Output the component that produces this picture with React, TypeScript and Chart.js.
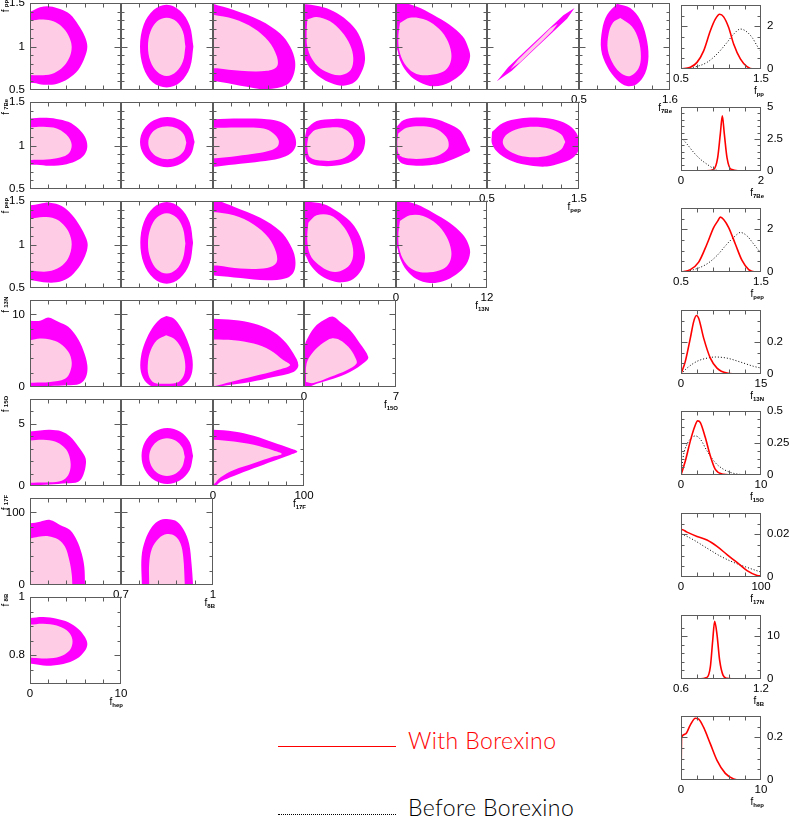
import React, { useEffect, useRef } from 'react';
import { Chart, registerables } from 'chart.js';

Chart.register(...registerables);

// ---------------- axes of the triangle of 2D panels ----------------
const rowNames = ['pp', '7Be', 'pep', '13N', '15O', '17F', '8B'];
const colNames = ['hep', '8B', '17F', '15O', '13N', 'pep', '7Be'];
const colMin = [0, 0.7, 0, 0, 0, 0.5, 0.5];
const colMax = [10, 1, 100, 7, 12, 1.5, 1.6];
const colStep = [2, 0.06, 20, 1.4, 2.4, 0.2, 0.22];
const rowMin = [0.5, 0.5, 0.5, 0, 0, 0, 0.7];
const rowMax = [1.5, 1.5, 1.5, 12, 7, 120, 1];
const rowStep = [0.1, 0.1, 0.1, 2, 1, 20, 0.05];
const rowTickLabels = [[0.5, 1, 1.5], [0.5, 1, 1.5], [0.5, 1, 1.5], [0, 10], [0, 5], [0, 100], [0.8, 1]];

// ---------------- contours (x, y pairs), 95% (outer) and 68% (inner) ----------------
// row f_pp
const pp_hep_95 = [-1, 1.40, 0, 1.40, 1.1, 1.45, 2.2, 1.46, 3.3, 1.43, 4.4, 1.37, 5.3, 1.25, 6.0, 1.12, 6.3, 1.0, 6.0, 0.87, 5.3, 0.73, 4.2, 0.63, 2.9, 0.57, 1.5, 0.56, 0.4, 0.58, -1, 0.58];
const pp_hep_68 = [-1, 1.30, 0, 1.30, 1.47, 1.31, 2.56, 1.29, 3.48, 1.23, 4.21, 1.13, 4.58, 1.0, 4.29, 0.865, 3.48, 0.75, 2.38, 0.685, 1.1, 0.67, 0, 0.673, -1, 0.673];
const pp_8B_95 = [0.936, 1.0, 0.924, 1.24, 0.893, 1.41, 0.849, 1.48, 0.806, 1.42, 0.774, 1.25, 0.762, 1.0, 0.773, 0.76, 0.803, 0.59, 0.849, 0.53, 0.893, 0.59, 0.925, 0.76, 0.936, 1.0];
const pp_8B_68 = [0.910, 1.0, 0.902, 1.17, 0.880, 1.29, 0.849, 1.33, 0.818, 1.29, 0.796, 1.17, 0.788, 1.0, 0.796, 0.83, 0.818, 0.71, 0.849, 0.66, 0.880, 0.71, 0.902, 0.83, 0.910, 1.0];
const pp_17F_95 = [-5, 1.52, 0, 1.49, 22.9, 1.42, 52, 1.30, 73.8, 1.15, 84.7, 1.0, 90.2, 0.83, 88.4, 0.67, 81.1, 0.56, 59.3, 0.51, 30.2, 0.55, 2.9, 0.60, -5, 0.60];
const pp_17F_68 = [-5, 1.365, 0, 1.365, 22.9, 1.315, 44.7, 1.21, 61.1, 1.06, 70.2, 0.885, 70.2, 0.77, 59.3, 0.72, 30.2, 0.72, 4.7, 0.75, -5, 0.75];
const pp_15O_95 = [-0.3, 1.485, 0.2, 1.485, 1.47, 1.45, 2.49, 1.385, 3.5, 1.27, 4.13, 1.15, 4.51, 1.0, 4.64, 0.846, 4.39, 0.71, 3.88, 0.596, 2.99, 0.55, 2.1, 0.577, 1.22, 0.646, 0.46, 0.75, 0.05, 0.85, -0.3, 0.85];
const pp_15O_68 = [0.25, 1.31, 0.96, 1.34, 1.98, 1.29, 2.87, 1.17, 3.5, 1.02, 3.75, 0.865, 3.55, 0.73, 2.87, 0.673, 2.1, 0.685, 1.22, 0.75, 0.58, 0.865, 0.25, 1.0, 0.2, 1.15, 0.25, 1.31];
const pp_13N_95 = [-0.3, 1.52, 0.17, 1.52, 2.7, 1.46, 4.89, 1.365, 7.07, 1.25, 8.81, 1.115, 9.47, 1.0, 9.77, 0.885, 9.25, 0.75, 7.94, 0.635, 6.2, 0.558, 4.45, 0.546, 2.7, 0.608, 1.4, 0.71, 0.52, 0.846, 0.09, 0.98, -0.3, 0.98];
const pp_13N_68 = [0.52, 1.27, 1.83, 1.33, 3.58, 1.315, 5.32, 1.23, 6.63, 1.096, 7.29, 0.923, 7.07, 0.79, 6.2, 0.71, 4.45, 0.673, 2.7, 0.685, 1.4, 0.77, 0.52, 0.923, 0.3, 1.096, 0.52, 1.27];
const pp_pep_95 = [0.607, 0.600, 0.73, 0.762, 0.93, 0.962, 1.13, 1.161, 1.33, 1.360, 1.452, 1.442, 1.37, 1.320, 1.17, 1.121, 0.97, 0.922, 0.77, 0.722, 0.607, 0.600];
const pp_pep_68 = [0.754, 0.738, 0.837, 0.849, 0.957, 0.971, 1.077, 1.093, 1.187, 1.206, 1.268, 1.262, 1.213, 1.180, 1.103, 1.067, 0.983, 0.945, 0.863, 0.823, 0.754, 0.738];
const pp_7Be_95 = [0.96, 1.492, 1.12, 1.442, 1.24, 1.308, 1.312, 1.115, 1.34, 0.885, 1.3, 0.692, 1.2, 0.569, 1.08, 0.546, 0.96, 0.615, 0.84, 0.769, 0.768, 0.962, 0.78, 1.192, 0.84, 1.365, 0.96, 1.492];
const pp_7Be_68 = [1.0, 1.327, 1.14, 1.23, 1.22, 1.077, 1.248, 0.885, 1.22, 0.75, 1.12, 0.662, 1.02, 0.685, 0.92, 0.788, 0.848, 0.962, 0.86, 1.154, 0.912, 1.277, 1.0, 1.327];
// row f_7Be
const be_hep_95 = [-1, 1.31, 0, 1.31, 1.47, 1.318, 2.93, 1.306, 4.21, 1.272, 5.31, 1.196, 6.04, 1.10, 6.3, 0.994, 6.04, 0.903, 5.31, 0.835, 4.03, 0.785, 2.2, 0.766, 0.73, 0.778, -1, 0.778];
const be_hep_68 = [-1, 1.207, 0, 1.207, 1.47, 1.215, 2.93, 1.196, 3.85, 1.139, 4.4, 1.07, 4.58, 0.994, 4.32, 0.918, 3.66, 0.873, 2.2, 0.842, 0.73, 0.835, -1, 0.835];
const be_8B_95 = [0.940, 1.04, 0.928, 1.185, 0.895, 1.29, 0.851, 1.329, 0.807, 1.29, 0.774, 1.185, 0.762, 1.04, 0.774, 0.896, 0.807, 0.79, 0.851, 0.751, 0.895, 0.79, 0.928, 0.896, 0.940, 1.04];
const be_8B_68 = [0.913, 1.032, 0.905, 1.127, 0.882, 1.197, 0.851, 1.222, 0.820, 1.197, 0.797, 1.127, 0.789, 1.032, 0.797, 0.937, 0.820, 0.867, 0.851, 0.842, 0.882, 0.867, 0.905, 0.937, 0.913, 1.032];
const be_17F_95 = [-5, 1.31, 0, 1.302, 30.2, 1.31, 59.3, 1.302, 73.8, 1.272, 84.7, 1.196, 90.2, 1.10, 90.9, 0.994, 85.5, 0.91, 73.8, 0.854, 52, 0.816, 30.2, 0.789, 4.7, 0.759, -5, 0.755];
const be_17F_68 = [-5, 1.203, 0, 1.203, 30.2, 1.207, 55.6, 1.196, 66.5, 1.139, 72, 1.063, 71.3, 0.994, 64.7, 0.949, 48.4, 0.911, 26.5, 0.88, 2.9, 0.854, -5, 0.852];
const be_15O_95 = [0.2, 1.196, 0.96, 1.283, 2.23, 1.306, 3.25, 1.298, 4.13, 1.234, 4.59, 1.118, 4.64, 1.023, 4.39, 0.911, 3.63, 0.816, 2.49, 0.77, 1.22, 0.766, 0.33, 0.808, 0.05, 0.911, 0.05, 1.063, 0.2, 1.196];
const be_15O_68 = [0.33, 1.10, 0.84, 1.177, 1.98, 1.207, 2.99, 1.196, 3.63, 1.118, 3.8, 1.006, 3.5, 0.903, 2.61, 0.835, 1.34, 0.827, 0.46, 0.865, 0.25, 0.987, 0.33, 1.10];
const be_13N_95 = [0.09, 1.215, 0.96, 1.291, 2.7, 1.321, 4.89, 1.31, 7.07, 1.245, 8.38, 1.177, 9.03, 1.093, 9.47, 1.006, 9.77, 0.941, 9.03, 0.903, 7.51, 0.842, 5.76, 0.789, 4.01, 0.77, 2.27, 0.77, 0.74, 0.797, 0.09, 0.873, 0, 1.063, 0.09, 1.215];
const be_13N_68 = [0.3, 1.139, 1.4, 1.203, 3.14, 1.222, 4.89, 1.203, 6.2, 1.139, 6.85, 1.063, 6.85, 0.968, 5.76, 0.892, 4.01, 0.854, 1.83, 0.85, 0.44, 0.892, 0.17, 1.025, 0.3, 1.139];
const be_pep_95 = [0.555, 1.158, 0.673, 1.26, 0.857, 1.31, 1.04, 1.321, 1.224, 1.302, 1.371, 1.245, 1.463, 1.158, 1.504, 1.044, 1.493, 0.941, 1.426, 0.854, 1.298, 0.797, 1.151, 0.759, 0.967, 0.77, 0.783, 0.816, 0.636, 0.903, 0.555, 1.017, 0.555, 1.158];
const be_pep_68 = [1.351, 1.04, 1.305, 1.128, 1.181, 1.192, 1.011, 1.215, 0.841, 1.192, 0.717, 1.128, 0.671, 1.04, 0.717, 0.953, 0.841, 0.889, 1.011, 0.865, 1.181, 0.889, 1.305, 0.953, 1.351, 1.04];
// row f_pep
const pep_hep_95 = [-1, 1.45, 0, 1.45, 1.1, 1.469, 2.2, 1.481, 3.48, 1.442, 4.58, 1.346, 5.49, 1.212, 6.15, 1.077, 6.34, 0.988, 6.04, 0.865, 5.31, 0.731, 4.21, 0.615, 2.93, 0.565, 1.47, 0.565, 0.18, 0.588, -1, 0.588];
const pep_hep_68 = [-1, 1.296, 0, 1.296, 1.47, 1.315, 2.75, 1.296, 3.66, 1.231, 4.29, 1.135, 4.58, 1.0, 4.21, 0.846, 3.3, 0.742, 2.01, 0.692, 0.73, 0.692, 0, 0.7, -1, 0.7];
const pep_8B_95 = [0.935, 1.019, 0.924, 1.254, 0.892, 1.425, 0.849, 1.488, 0.806, 1.425, 0.774, 1.254, 0.763, 1.019, 0.774, 0.785, 0.806, 0.613, 0.849, 0.55, 0.892, 0.613, 0.924, 0.785, 0.935, 1.019];
const pep_8B_68 = [0.910, 1.012, 0.902, 1.185, 0.880, 1.312, 0.849, 1.358, 0.818, 1.312, 0.796, 1.185, 0.788, 1.012, 0.796, 0.839, 0.818, 0.712, 0.849, 0.666, 0.880, 0.712, 0.902, 0.839, 0.910, 1.012];
const pep_17F_95 = [-5, 1.52, 4.7, 1.505, 22.9, 1.435, 52, 1.308, 73.8, 1.154, 84.7, 1.0, 90.2, 0.846, 89.1, 0.692, 81.1, 0.615, 59.3, 0.588, 30.2, 0.615, 2.9, 0.642, -5, 0.642];
const pep_17F_68 = [-5, 1.373, 0, 1.373, 22.9, 1.335, 44.7, 1.231, 61.1, 1.077, 69.5, 0.904, 69.5, 0.788, 59.3, 0.731, 30.2, 0.723, 4.7, 0.758, -5, 0.758];
const pep_15O_95 = [-0.3, 1.492, 0.2, 1.492, 1.47, 1.465, 2.49, 1.385, 3.5, 1.269, 4.13, 1.135, 4.51, 0.981, 4.64, 0.846, 4.39, 0.712, 3.75, 0.604, 2.87, 0.565, 1.98, 0.588, 1.09, 0.665, 0.46, 0.769, 0.05, 0.885, -0.3, 0.885];
const pep_15O_68 = [0.33, 1.25, 0.96, 1.335, 1.98, 1.335, 2.87, 1.231, 3.5, 1.077, 3.75, 0.904, 3.5, 0.769, 2.74, 0.692, 1.98, 0.692, 1.09, 0.769, 0.46, 0.885, 0.25, 1.058, 0.33, 1.25];
const pep_13N_95 = [-0.3, 1.52, 0.17, 1.52, 2.7, 1.462, 4.89, 1.365, 7.07, 1.25, 8.81, 1.115, 9.47, 1.019, 9.77, 0.904, 9.25, 0.769, 7.94, 0.654, 6.2, 0.577, 4.45, 0.558, 2.7, 0.604, 1.4, 0.704, 0.52, 0.846, 0.09, 0.981, -0.3, 0.98];
const pep_13N_68 = [0.52, 1.269, 1.83, 1.335, 3.58, 1.327, 5.32, 1.238, 6.63, 1.096, 7.29, 0.923, 7.07, 0.796, 6.2, 0.719, 4.45, 0.681, 2.7, 0.692, 1.4, 0.769, 0.52, 0.923, 0.3, 1.096, 0.52, 1.269];
// row f_13N
const n13_hep_95 = [-1, 9.14, 0, 9.14, 1.1, 9.14, 2.01, 9.6, 3.11, 9.0, 4.21, 8.31, 5.13, 6.92, 5.86, 5.08, 6.3, 3.0, 6.15, 1.38, 5.49, 0.46, 4.03, 0.23, 2.2, 0.14, 0.18, 0.09, -1, 0.09];
const n13_hep_68 = [-1, 6.46, 0, 6.46, 1.1, 6.69, 2.2, 6.55, 3.3, 6.0, 4.21, 4.85, 4.58, 3.46, 4.4, 2.08, 3.85, 1.15, 2.2, 0.69, 0.37, 0.6, -1, 0.6];
const n13_8B_95 = [0.848, 9.78, 0.872, 9.46, 0.894, 8.31, 0.916, 6.46, 0.932, 4.15, 0.932, 2.08, 0.916, 0.69, 0.883, -0.1, 0.817, -0.1, 0.784, 0.55, 0.765, 2.08, 0.765, 4.15, 0.779, 6.23, 0.801, 8.08, 0.826, 9.32, 0.848, 9.78];
const n13_8B_68 = [0.847, 7.15, 0.872, 6.69, 0.894, 5.54, 0.908, 3.69, 0.907, 1.85, 0.888, 0.69, 0.85, 0.46, 0.808, 0.6, 0.79, 1.62, 0.788, 3.46, 0.797, 5.08, 0.817, 6.46, 0.847, 7.15];
const n13_17F_95 = [-5, 9.42, 0, 9.42, 22.9, 9.23, 44.7, 8.77, 62.9, 7.85, 77.5, 6.46, 88.4, 4.62, 93.8, 3.0, 88.4, 2.08, 66.5, 1.38, 41.1, 0.69, 15.6, 0.23, 1.1, -0.1, -5, -0.1];
const n13_17F_68 = [-5, 6.55, 0, 6.55, 22.9, 6.46, 44.7, 6.0, 62.9, 5.08, 77.5, 3.69, 84.7, 3.0, 70.2, 2.31, 44.7, 1.48, 19.3, 0.69, 1.1, 0.09, -5, 0.0];
const n13_15O_95 = [0.05, -0.1, 0.05, 5.54, 0.33, 6.92, 0.96, 8.54, 1.72, 9.46, 2.23, 9.69, 2.74, 9.0, 3.5, 7.85, 4.26, 6.0, 4.89, 4.15, 4.64, 3.46, 3.5, 2.08, 2.23, 1.15, 0.96, 0.46, 0.2, -0.1, 0.05, -0.1];
const n13_15O_68 = [0.15, 0.69, 0.2, 3.23, 0.71, 4.85, 1.47, 6.09, 2.1, 6.69, 2.74, 6.46, 3.37, 5.54, 3.88, 4.15, 4.0, 3.23, 3.25, 2.31, 1.98, 1.38, 0.71, 0.55, 0.15, 0.69];
// row f_15O
const o15_hep_95 = [-1, 4.39, 0, 4.39, 1.1, 4.47, 2.2, 4.52, 3.48, 4.39, 4.4, 3.98, 5.31, 3.18, 6.04, 2.37, 6.15, 1.83, 5.86, 0.89, 5.31, 0.35, 4.03, 0.22, 2.2, 0.13, 0.18, 0.08, -1, 0.08];
const o15_hep_68 = [-1, 3.66, 0, 3.66, 1.47, 3.72, 2.75, 3.58, 3.66, 3.18, 4.21, 2.64, 4.47, 1.7, 4.21, 0.89, 3.48, 0.43, 2.2, 0.3, 0.37, 0.27, -1, 0.27];
const o15_8B_95 = [0.935, 2.41, 0.924, 3.535, 0.893, 4.36, 0.851, 4.66, 0.809, 4.36, 0.778, 3.535, 0.767, 2.41, 0.778, 1.285, 0.809, 0.46, 0.851, 0.16, 0.893, 0.46, 0.924, 1.285, 0.935, 2.41];
const o15_8B_68 = [0.908, 2.33, 0.900, 3.09, 0.879, 3.65, 0.85, 3.85, 0.821, 3.65, 0.8, 3.09, 0.792, 2.33, 0.8, 1.57, 0.821, 1.01, 0.85, 0.81, 0.879, 1.01, 0.9, 1.57, 0.908, 2.33];
const o15_17F_95 = [-5, 4.52, 0, 4.52, 22.9, 4.39, 44.7, 4.04, 66.5, 3.5, 84.7, 3.04, 92.7, 2.77, 84.7, 2.5, 66.5, 2.02, 44.7, 1.43, 22.9, 0.81, 8.4, 0.35, 1.1, -0.1, -5, -0.1];
const o15_17F_68 = [-5, 3.72, 0, 3.72, 22.9, 3.58, 44.7, 3.31, 66.5, 2.85, 75.6, 2.58, 66.5, 2.37, 44.7, 1.83, 22.9, 1.29, 8.4, 0.7, 1.1, 0.16, -5, 0.0];
// row f_17F
const f17_hep_95 = [-1, 85.1, 0, 85.1, 1.1, 87.4, 2.2, 89.8, 3.3, 82.8, 4.4, 75.8, 5.13, 61.9, 5.68, 43.3, 5.97, 24.7, 6.04, 0, 6.04, -5, -1, -5];
const f17_hep_68 = [-1, 64.2, 0, 64.2, 0.92, 66.5, 2.01, 67.4, 3.11, 62.8, 3.85, 52.6, 4.32, 34.0, 4.58, 15.3, 4.65, 0, 4.65, -5, -1, -5];
const f17_8B_95 = [0.768, -5, 0.768, 0, 0.767, 38.6, 0.779, 61.9, 0.801, 80.5, 0.828, 89.8, 0.856, 90.7, 0.883, 87.4, 0.905, 75.8, 0.922, 57.2, 0.93, 29.3, 0.935, 0, 0.935, -5];
const f17_8B_68 = [0.792, -5, 0.792, 0, 0.792, 29.3, 0.801, 50.2, 0.823, 64.2, 0.85, 70.2, 0.877, 67.4, 0.894, 57.2, 0.903, 38.6, 0.908, 0, 0.908, -5];
// row f_8B
const b8_hep_95 = [-1, 0.928, 0, 0.928, 1.47, 0.931, 2.93, 0.925, 4.21, 0.913, 5.31, 0.89, 6.04, 0.862, 6.3, 0.838, 6.04, 0.815, 5.13, 0.787, 3.66, 0.769, 1.83, 0.763, 0.37, 0.769, -1, 0.77];
const b8_hep_68 = [-1, 0.905, 0, 0.905, 1.47, 0.908, 2.93, 0.902, 4.03, 0.885, 4.58, 0.862, 4.65, 0.838, 4.32, 0.815, 3.3, 0.795, 1.83, 0.788, 0.37, 0.79, -1, 0.79];

const contour95 = [
  [pp_hep_95, pp_8B_95, pp_17F_95, pp_15O_95, pp_13N_95, pp_pep_95, pp_7Be_95],
  [be_hep_95, be_8B_95, be_17F_95, be_15O_95, be_13N_95, be_pep_95],
  [pep_hep_95, pep_8B_95, pep_17F_95, pep_15O_95, pep_13N_95],
  [n13_hep_95, n13_8B_95, n13_17F_95, n13_15O_95],
  [o15_hep_95, o15_8B_95, o15_17F_95],
  [f17_hep_95, f17_8B_95],
  [b8_hep_95],
];
const contour68 = [
  [pp_hep_68, pp_8B_68, pp_17F_68, pp_15O_68, pp_13N_68, pp_pep_68, pp_7Be_68],
  [be_hep_68, be_8B_68, be_17F_68, be_15O_68, be_13N_68, be_pep_68],
  [pep_hep_68, pep_8B_68, pep_17F_68, pep_15O_68, pep_13N_68],
  [n13_hep_68, n13_8B_68, n13_17F_68, n13_15O_68],
  [o15_hep_68, o15_8B_68, o15_17F_68],
  [f17_hep_68, f17_8B_68],
  [b8_hep_68],
];

// ---------------- 1D distributions (right column) ----------------
const distNames = ['pp', '7Be', 'pep', '13N', '15O', '17N', '8B', 'hep'];
const distXMin = [0.5, 0, 0.5, 0, 0, 0, 0.6, 0];
const distXMax = [1.5, 2, 1.5, 15, 10, 100, 1.2, 10];
const distXStep = [0.2, 0.4, 0.2, 3, 2, 20, 0.12, 2];
const distYMax = [3, 5, 3, 0.4, 0.5, 0.03, 15, 0.3];
const distYStep = [0.5, 0.5, 0.5, 0.4 / 6, 0.0625, 0.005, 2, 0.05];
const distYLabels = [[0, 2], [0, 2.5, 5], [0, 2], [0, 0.2], [0, 0.25, 0.5], [0, 0.02], [0, 10], [0, 0.2]];

const ppWithX = [0.5, 0.617, 0.7, 0.783, 0.867, 0.929, 0.983, 1.033, 1.096, 1.158, 1.242, 1.325, 1.408, 1.5];
const ppWithY = [0, 0.08, 0.31, 0.85, 1.79, 2.33, 2.56, 2.44, 1.94, 1.17, 0.47, 0.11, 0, 0];
const ppBeforeX = [0.5, 0.658, 0.825, 0.95, 1.075, 1.158, 1.242, 1.304, 1.388, 1.45, 1.5];
const ppBeforeY = [0, 0.08, 0.31, 0.7, 1.24, 1.63, 1.87, 1.79, 1.48, 1.09, 0.78];
const be7WithX = [0.6, 0.817, 0.917, 0.983, 1.033, 1.083, 1.15, 1.25, 1.5];
const be7WithY = [0, 0.13, 1.05, 2.89, 4.3, 2.89, 1.05, 0.13, 0];
const be7BeforeX = [0, 0.15, 0.317, 0.483, 0.65, 0.775, 0.9, 1.025];
const be7BeforeY = [2.63, 2.1, 1.45, 0.92, 0.53, 0.26, 0.05, 0];
const pepWithX = [0.5, 0.617, 0.721, 0.825, 0.908, 0.958, 0.992, 1.033, 1.096, 1.179, 1.263, 1.346, 1.429, 1.5];
const pepWithY = [0, 0.11, 0.46, 1.31, 2.08, 2.38, 2.57, 2.46, 2.08, 1.31, 0.54, 0.11, 0, 0];
const pepBeforeX = [0.5, 0.658, 0.825, 0.95, 1.075, 1.179, 1.242, 1.325, 1.408, 1.5];
const pepBeforeY = [0, 0.11, 0.38, 0.77, 1.31, 1.69, 1.85, 1.69, 1.31, 0.88];
const n13WithX = [0, 0.81, 1.75, 2.38, 2.88, 3.31, 4.25, 5.5, 6.75, 8.63, 11.1, 15];
const n13WithY = [0, 0.079, 0.224, 0.327, 0.365, 0.348, 0.224, 0.099, 0.037, 0.006, 0, 0];
const n13BeforeX = [0, 1.13, 3.0, 4.88, 6.44, 8.63, 11.1, 13.6, 15];
const n13BeforeY = [0, 0.037, 0.079, 0.099, 0.106, 0.099, 0.075, 0.048, 0.037];
const o15WithX = [0, 0.54, 1.17, 1.67, 2.08, 2.42, 3.04, 3.67, 4.29, 5.33, 6.17];
const o15WithY = [0, 0.109, 0.266, 0.37, 0.422, 0.409, 0.292, 0.148, 0.044, 0.005, 0];
const o15BeforeX = [0, 0.25, 0.75, 1.38, 1.79, 2.42, 3.25, 4.29, 5.33, 6.58, 8.25];
const o15BeforeY = [0, 0.135, 0.24, 0.292, 0.305, 0.279, 0.188, 0.096, 0.044, 0.013, 0];
const n17WithX = [0, 0.3, 1, 7.5, 20, 32.5, 45, 57.5, 70, 82.5, 95, 100];
const n17WithY = [0, 0.022, 0.0222, 0.021, 0.019, 0.0173, 0.0143, 0.0105, 0.0068, 0.003, 0.00075, 0.00045];
const n17BeforeX = [0.5, 16, 32.5, 49, 66, 82.5, 100];
const n17BeforeY = [0.0203, 0.0173, 0.0135, 0.0098, 0.0068, 0.0045, 0.0023];
const b8WithX = [0.72, 0.795, 0.82, 0.8375, 0.8525, 0.87, 0.89, 0.915, 0.945, 0.995];
const b8WithY = [0, 0.38, 2.82, 8.9, 13.5, 10.4, 4.34, 0.91, 0.15, 0];
const hepWithX = [0, 0.08, 0.54, 1.17, 1.79, 2.21, 2.83, 3.67, 4.5, 5.54, 6.58, 7.42, 9.5];
const hepWithY = [0, 0.2, 0.215, 0.258, 0.289, 0.285, 0.246, 0.169, 0.092, 0.031, 0.005, 0, 0];

const distWithX = [ppWithX, be7WithX, pepWithX, n13WithX, o15WithX, n17WithX, b8WithX, hepWithX];
const distWithY = [ppWithY, be7WithY, pepWithY, n13WithY, o15WithY, n17WithY, b8WithY, hepWithY];
const distBeforeX = [ppBeforeX, be7BeforeX, pepBeforeX, n13BeforeX, o15BeforeX, n17BeforeX, null, null];
const distBeforeY = [ppBeforeY, be7BeforeY, pepBeforeY, n13BeforeY, o15BeforeY, n17BeforeY, null, null];

const seriesLabels = ['With Borexino', 'Before Borexino'];

// ---------------- styling / layout ----------------
const PINK = '#FFCCE6';
const MAGENTA = '#FF00FF';
const FRAME = '#5c5c5c';
const TICK_FONT = { family: "'Liberation Sans', Arial, sans-serif", size: 11.5 };
const PANEL_H = 87;
const colLeft = (c: number) => 30 + Math.floor(c * 91.5);
const colRight = (c: number) => 30 + Math.floor((c + 1) * 91.5);
const rowTop = (r: number) => 3 + 99 * r;
const DIST_L = 681;
const DIST_W = 80;
const DIST_H = 65;
const distTop = (k: number) => Math.round(4 + 101.6 * k);
const M2 = { l: 30, r: 20, t: 12, b: 20 };
const M1 = { l: 20, r: 30, t: 12, b: 20 };

const toPts = (a: number[]) => {
  const out: any[] = [];
  for (let i = 0; i < a.length; i += 2) out.push({ x: a[i], y: a[i + 1] });
  return out;
};
const zipPts = (xs: number[], ys: number[]) => xs.map((x, i) => ({ x, y: ys[i] }));
const fmt = (v: number) => String(parseFloat(v.toFixed(4)));
const near = (list: number[], v: number) => list.some((m) => Math.abs(m - v) < 1e-7);
const labelCb = (list: number[]) => (v: any) => (near(list, Number(v)) ? fmt(Number(v)) : '');

function framePlugin(majorX: number[], majorY: number[]) {
  return {
    id: 'frameTicks',
    afterDatasetsDraw(chart: any) {
      const { ctx, chartArea: a } = chart;
      const xs = chart.scales.x;
      const ys = chart.scales.y;
      const L = Math.round(a.left) + 0.5;
      const R = Math.round(a.right) - 0.5;
      const T = Math.round(a.top) + 0.5;
      const B = Math.round(a.bottom) - 0.5;
      ctx.save();
      ctx.strokeStyle = FRAME;
      ctx.lineWidth = 1;
      ctx.beginPath();
      for (const t of xs.ticks) {
        const p = Math.round(xs.getPixelForValue(t.value)) + 0.5;
        if (p < L + 2 || p > R - 2) continue;
        const len = near(majorX, t.value) ? 6 : 4;
        ctx.moveTo(p, B); ctx.lineTo(p, B - len);
        ctx.moveTo(p, T); ctx.lineTo(p, T + len);
      }
      for (const t of ys.ticks) {
        const p = Math.round(ys.getPixelForValue(t.value)) + 0.5;
        if (p < T + 2 || p > B - 2) continue;
        const len = near(majorY, t.value) ? 6 : 3;
        ctx.moveTo(L, p); ctx.lineTo(L + len, p);
        ctx.moveTo(R, p); ctx.lineTo(R - len, p);
      }
      ctx.stroke();
      ctx.strokeRect(L, T, R - L, B - T);
      ctx.restore();
    },
  };
}

const baseOptions = {
  animation: false,
  responsive: false,
  devicePixelRatio: 1,
  events: [],
  plugins: { legend: { display: false }, tooltip: { enabled: false } },
};

function contourConfig(r: number, c: number) {
  const isLast = c === 6 - r;
  const tension = r === 0 && c === 5 ? 0 : 0.35;
  return {
    type: 'line',
    data: {
      datasets: [
        { data: toPts(contour68[r][c]), fill: 'shape', backgroundColor: PINK, borderColor: PINK, borderWidth: 0, pointRadius: 0, tension },
        { data: toPts(contour95[r][c]), fill: 'shape', backgroundColor: MAGENTA, borderColor: MAGENTA, borderWidth: 0, pointRadius: 0, tension },
      ],
    },
    options: {
      ...baseOptions,
      layout: { autoPadding: false, padding: { left: 0, right: M2.r, top: M2.t, bottom: 0 } },
      scales: {
        x: {
          type: 'linear', min: colMin[c], max: colMax[c],
          grid: { display: false, drawTicks: false }, border: { display: false },
          ticks: { display: isLast, stepSize: colStep[c], autoSkip: false, maxRotation: 0, padding: 3, font: TICK_FONT, color: '#000', callback: labelCb([colMin[c], colMax[c]]) },
          afterFit: (s: any) => { s.height = M2.b; },
        },
        y: {
          type: 'linear', min: rowMin[r], max: rowMax[r],
          grid: { display: false, drawTicks: false }, border: { display: false },
          ticks: { display: c === 0, stepSize: rowStep[r], autoSkip: false, padding: 5, font: TICK_FONT, color: '#000', callback: labelCb(rowTickLabels[r]) },
          afterFit: (s: any) => { s.width = M2.l; },
        },
      },
    },
    plugins: [framePlugin([], rowTickLabels[r])],
  };
}

function distConfig(k: number) {
  const datasets: any[] = [
    { data: zipPts(distWithX[k], distWithY[k]), borderColor: '#ff0000', borderWidth: 1.6, pointRadius: 0, fill: false, cubicInterpolationMode: 'monotone' },
  ];
  const bx = distBeforeX[k];
  const by = distBeforeY[k];
  if (bx && by) {
    datasets.push({ data: zipPts(bx, by), borderColor: '#000000', borderWidth: 1, borderDash: [1, 2], pointRadius: 0, fill: false, cubicInterpolationMode: 'monotone' });
  }
  return {
    type: 'line',
    data: { datasets },
    options: {
      ...baseOptions,
      layout: { autoPadding: false, padding: { left: M1.l, right: 0, top: M1.t, bottom: 0 } },
      scales: {
        x: {
          type: 'linear', position: 'bottom', min: distXMin[k], max: distXMax[k],
          grid: { display: false, drawTicks: false }, border: { display: false },
          ticks: { stepSize: distXStep[k], autoSkip: false, maxRotation: 0, padding: 3, font: TICK_FONT, color: '#000', callback: labelCb([distXMin[k], distXMax[k]]) },
          afterFit: (s: any) => { s.height = M1.b; },
        },
        y: {
          type: 'linear', position: 'right', min: 0, max: distYMax[k],
          grid: { display: false, drawTicks: false }, border: { display: false },
          ticks: { stepSize: distYStep[k], autoSkip: false, padding: 6, font: TICK_FONT, color: '#000', callback: labelCb(distYLabels[k]) },
          afterFit: (s: any) => { s.width = M1.r; },
        },
      },
    },
    plugins: [framePlugin([], distYLabels[k])],
  };
}

function PlotCanvas({ left, top, width, height, make }: any) {
  const ref = useRef<HTMLCanvasElement | null>(null);
  useEffect(() => {
    const chart = new Chart(ref.current as HTMLCanvasElement, make());
    return () => chart.destroy();
  }, []);
  return <canvas ref={ref} width={width} height={height} style={{ position: 'absolute', left, top, width, height }} />;
}

function FSym({ sub }: { sub: string }) {
  return (
    <span style={{ fontFamily: "'Liberation Sans', Arial, sans-serif", fontSize: 10, color: '#000' }}>
      f<span style={{ fontSize: 6, fontWeight: 'bold', position: 'relative', top: 2 }}>{sub}</span>
    </span>
  );
}

export default function App() {
  const panels: any[] = [];
  for (let r = 0; r < 7; r++) {
    for (let c = 0; c < 7 - r; c++) {
      const L = colLeft(c);
      const W = colRight(c) - L;
      panels.push(
        <PlotCanvas key={`p${r}-${c}`} left={L - M2.l} top={rowTop(r) - M2.t} width={W + M2.l + M2.r} height={PANEL_H + M2.t + M2.b} make={() => contourConfig(r, c)} />
      );
    }
  }
  const dists = distNames.map((_, k) => (
    <PlotCanvas key={`d${k}`} left={DIST_L - M1.l} top={distTop(k) - M1.t} width={DIST_W + M1.l + M1.r} height={DIST_H + M1.t + M1.b} make={() => distConfig(k)} />
  ));
  const yTitles = rowNames.map((n, r) => (
    <div key={`yt${r}`} style={{ position: 'absolute', left: 1, top: rowTop(r) - 1, writingMode: 'vertical-rl', transform: 'rotate(180deg)', lineHeight: '10px', whiteSpace: 'nowrap' }}>
      <FSym sub={n} />
    </div>
  ));
  const xTitles = rowNames.map((_, r) => {
    const c = 6 - r;
    return (
      <div key={`xt${r}`} style={{ position: 'absolute', right: 789 - (colRight(c) + 2), top: rowTop(r) + PANEL_H + 11, lineHeight: '10px', whiteSpace: 'nowrap' }}>
        <FSym sub={colNames[c]} />
      </div>
    );
  });
  const dTitles = distNames.map((n, k) => (
    <div key={`dt${k}`} style={{ position: 'absolute', right: 789 - 764, top: distTop(k) + DIST_H + 15, lineHeight: '10px', whiteSpace: 'nowrap' }}>
      <FSym sub={n} />
    </div>
  ));
  const legendFont = "'Lato', 'DejaVu Sans', sans-serif";
  return (
    <div style={{ position: 'fixed', left: 0, top: 0, width: 789, height: 817, background: '#fff', overflow: 'hidden' }}>
      {panels}
      {dists}
      {yTitles}
      {xTitles}
      {dTitles}
      <div style={{ position: 'absolute', left: 278, top: 746, width: 118, borderTop: '1px solid #ff0000' }} />
      <div style={{ position: 'absolute', left: 408, top: 728, fontFamily: legendFont, fontWeight: 300, fontSize: 23, letterSpacing: 0.4, lineHeight: '25px', color: '#ff0000', whiteSpace: 'nowrap' }}>{seriesLabels[0]}</div>
      <div style={{ position: 'absolute', left: 278, top: 814, width: 118, borderTop: '1px dotted #000' }} />
      <div style={{ position: 'absolute', left: 408, top: 795, fontFamily: legendFont, fontWeight: 300, fontSize: 23, letterSpacing: 0.4, lineHeight: '25px', color: '#000', whiteSpace: 'nowrap' }}>{seriesLabels[1]}</div>
    </div>
  );
}
